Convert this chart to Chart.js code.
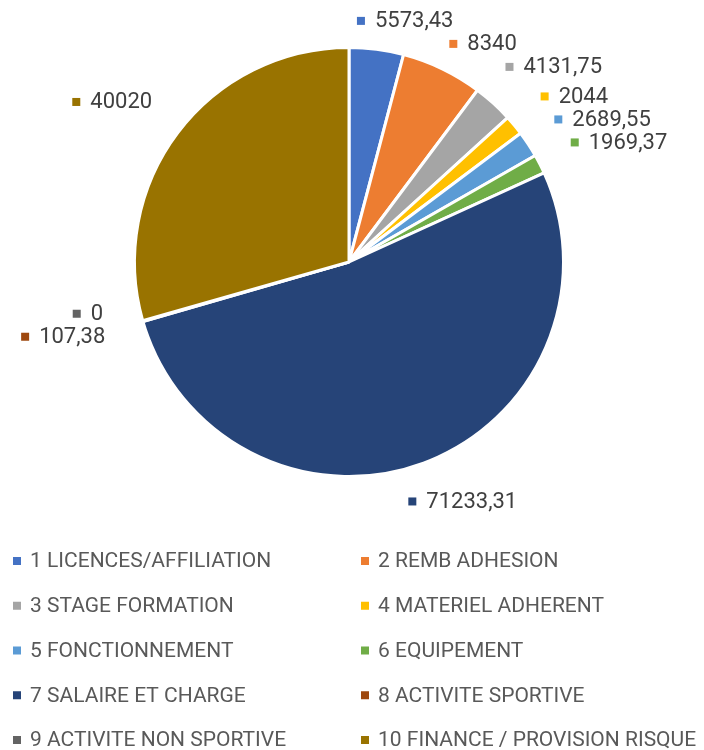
<!DOCTYPE html>
<html>
<head>
<meta charset="utf-8">
<script src="https://cdn.jsdelivr.net/npm/chart.js@4.4.1/dist/chart.umd.min.js"></script>
<style>
  html, body { margin: 0; padding: 0; background: #fff; }
  #pie { display: block; }
</style>
</head>
<body>
<canvas id="pie" width="704" height="750"></canvas>
<script>
/* ─── Data ─── */
const categories = [
  '1 LICENCES/AFFILIATION', '2 REMB ADHESION', '3 STAGE FORMATION',
  '4 MATERIEL ADHERENT', '5 FONCTIONNEMENT', '6 EQUIPEMENT',
  '7 SALAIRE ET CHARGE', '8 ACTIVITE SPORTIVE', '9 ACTIVITE NON SPORTIVE',
  '10 FINANCE / PROVISION RISQUE'
];
const amounts = [5573.43, 8340, 4131.75, 2044, 2689.55, 1969.37, 71233.31, 107.38, 0, 40020];
const sliceColors = [
  '#4472C4', '#ED7D31', '#A5A5A5', '#FFC000', '#5B9BD5',
  '#70AD47', '#264478', '#9E480E', '#636363', '#997300'
];

/* ─── Helpers ─── */
const fmt = v => String(v).replace('.', ',');

/* ─── Outside data labels (Excel style: square marker + value) ─── */
const outsideLabels = {
  id: 'outsideLabels',
  afterDatasetsDraw(chart) {
    const ctx = chart.ctx;
    const arcs = chart.getDatasetMeta(0).data;
    const MARK = 8, GAP = 10, H = 17, ROW = 23;
    ctx.save();
    ctx.font = '22px Roboto';

    const boxes = arcs.map((arc, i) => {
      const mid = (arc.startAngle + arc.endAngle) / 2;
      const dx = Math.cos(mid), dy = Math.sin(mid);
      const text = fmt(amounts[i]);
      const w = MARK + GAP + ctx.measureText(text).width;
      const d = arc.outerRadius + 14 + Math.abs(dx) * w / 2 + Math.abs(dy) * H / 2;
      return {
        i, text, w, mid,
        right: dx >= 0,
        cx: arc.x + dx * d + (dx >= 0 ? 25 : -25),
        cy: arc.y + dy * d
      };
    });

    // keep labels apart: right side pushes down, left side pushes up
    const placed = [];
    boxes.slice().sort((a, b) => a.mid - b.mid).forEach(b => {
      placed.forEach(p => {
        if (p.right !== b.right) return;
        const xOverlap = Math.abs(p.cx - b.cx) < (p.w + b.w) / 2;
        if (xOverlap && Math.abs(p.cy - b.cy) < ROW) {
          b.cy = b.right ? p.cy + ROW : p.cy - ROW;
        }
      });
      placed.push(b);
    });

    boxes.forEach(b => {
      const left = b.cx - b.w / 2;
      ctx.fillStyle = sliceColors[b.i];
      ctx.fillRect(left, b.cy - MARK / 2, MARK, MARK);
      ctx.fillStyle = '#404040';
      ctx.textBaseline = 'middle';
      ctx.textAlign = 'left';
      ctx.fillText(b.text, left + MARK + GAP, b.cy + 1);
    });
    ctx.restore();
  }
};

/* ─── Two-column legend under the pie ─── */
const twoColLegend = {
  id: 'twoColLegend',
  afterDraw(chart) {
    const ctx = chart.ctx;
    const colX = [13, 361];
    const top = 561, step = 44.75;
    ctx.save();
    ctx.font = '21px Roboto';
    ctx.textBaseline = 'middle';
    ctx.textAlign = 'left';
    categories.forEach((label, i) => {
      const x = colX[i % 2];
      const y = top + Math.floor(i / 2) * step;
      ctx.fillStyle = sliceColors[i];
      ctx.fillRect(x, y - 4, 8, 8);
      ctx.fillStyle = '#595959';
      ctx.fillText(label, x + 17, y + 1);
    });
    ctx.restore();
  }
};

/* ─── Chart ─── */
new Chart(document.getElementById('pie').getContext('2d'), {
  type: 'pie',
  data: {
    labels: categories,
    datasets: [{
      data: amounts,
      backgroundColor: sliceColors,
      borderColor: '#ffffff',
      borderWidth: 3
    }]
  },
  options: {
    responsive: false,
    animation: false,
    devicePixelRatio: 1,
    layout: { padding: { top: 46, bottom: 272, left: 133, right: 139 } },
    plugins: {
      legend: { display: false },
      tooltip: { enabled: false }
    }
  },
  plugins: [outsideLabels, twoColLegend]
});
</script>
</body>
</html>
